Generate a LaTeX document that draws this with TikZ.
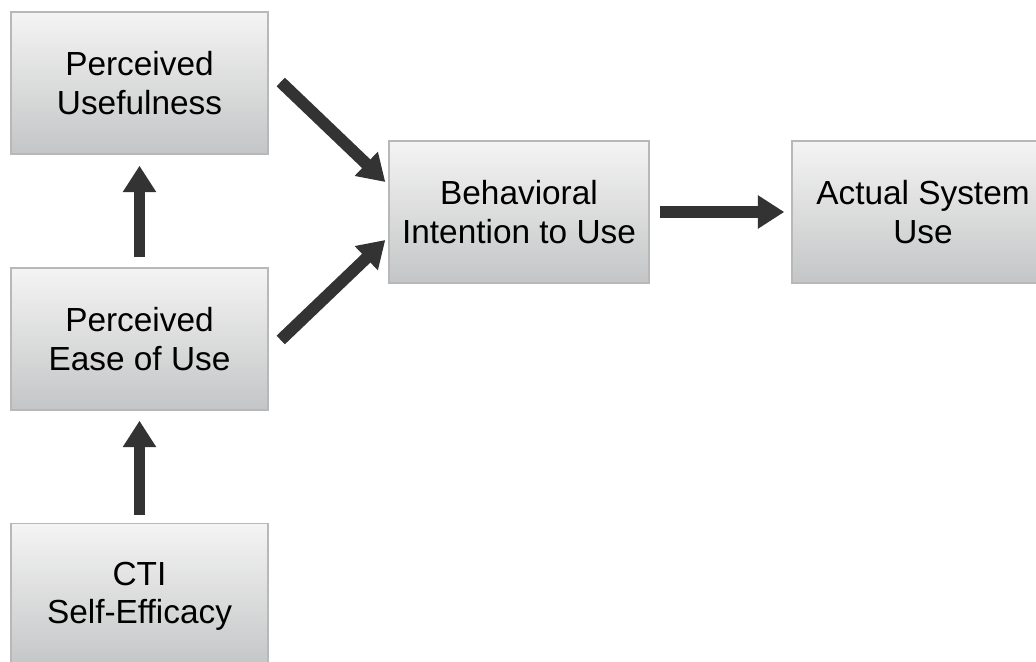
\documentclass[tikz,border=0pt]{standalone}
\usepackage{fontspec}
\setmainfont{Liberation Sans}
\usetikzlibrary{arrows.meta,calc}
\definecolor{boxtop}{HTML}{F4F4F4}
\definecolor{boxbot}{HTML}{C4C5C6}
\definecolor{boxline}{HTML}{B8B8B8}
\definecolor{arrcol}{HTML}{333333}
\tikzset{
  tambox/.style={draw=boxline, line width=0.8pt, top color=boxtop, bottom color=boxbot,
    minimum width=257*0.02cm, minimum height=142*0.02cm, inner sep=0pt,
    align=center, font=\fontsize{19}{21.8}\selectfont, text=black},
  fatarrow/.style={draw=arrcol, line width=6.8pt,
    -{Triangle[length=15pt,width=18pt]}}
}
\begin{document}
\begin{tikzpicture}[x=0.02cm,y=-0.02cm]
\useasboundingbox (0,0) rectangle (1036,662);
\clip (0,0) rectangle (1036,662);
\node[tambox] (pu) at (139.5,83) {Perceived\\Usefulness};
\node[tambox] (peou) at (139.5,339) {Perceived\\Ease of Use};
\node[tambox, minimum height=145*0.02cm] (cti) at (139.5,596) {CTI\\Self-Efficacy};
\node[tambox, minimum width=260*0.02cm] (bi) at (519,212) {Behavioral\\Intention to Use};
\node[tambox, minimum width=262*0.02cm] (asu) at (923,212) {Actual System\\Use};
\draw[fatarrow] ($(peou.north)+(0,-10)$) -- ($(pu.south)+(0,11)$);
\draw[fatarrow] ($(cti.north)+(0,-8)$) -- ($(peou.south)+(0,10)$);
\draw[fatarrow] ($(pu.east)+(12,-1)$) -- ($(bi.west)+(-3,-30)$);
\draw[fatarrow] ($(peou.east)+(12,1)$) -- ($(bi.west)+(-3,28)$);
\draw[fatarrow] ($(bi.east)+(10,0)$) -- ($(asu.west)+(-7,0)$);
\end{tikzpicture}
\end{document}
